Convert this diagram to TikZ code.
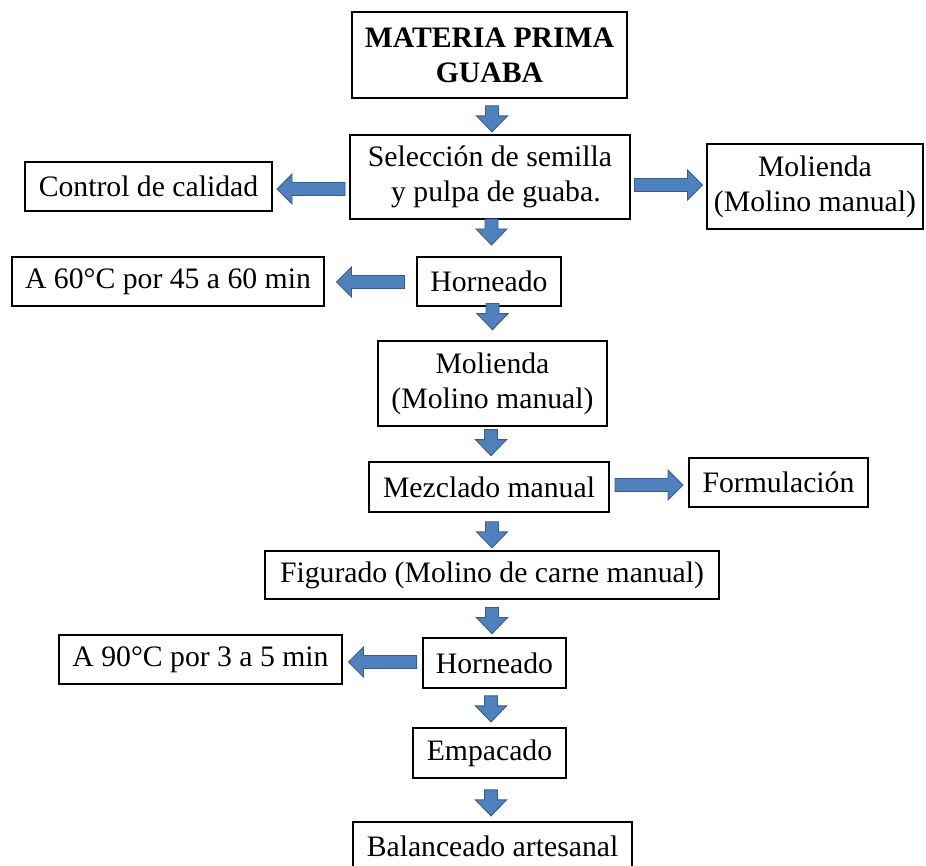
\documentclass[tikz,border=0pt]{standalone}
\usepackage{fontspec}
\setmainfont{Liberation Serif}
\usetikzlibrary{calc}
\definecolor{arrfill}{HTML}{4F81BD}
\definecolor{arrline}{HTML}{385D8A}
\begin{document}
\begin{tikzpicture}[x=1pt,y=-1pt,
  box/.style={draw, line width=2.6pt, fill=white, inner sep=0pt, align=center,
    font=\fontsize{29.7}{35}\selectfont},
  arrowbody/.style={draw=arrline, fill=arrfill, line width=0.9pt, line join=miter},
  varrow/.pic={\path[arrowbody] (-6.5,-13) -- (6.5,-13) -- (6.5,-3) -- (15.5,-3) -- (0,13) -- (-15.5,-3) -- (-6.5,-3) -- cycle;},
  harrow/.pic={\path[arrowbody] (-34,-6.5) -- (19,-6.5) -- (19,-15) -- (34,0) -- (19,15) -- (19,6.5) -- (-34,6.5) -- cycle;}
]
\useasboundingbox (0,0) rectangle (926,866);
\clip (0,0) rectangle (926,866);

% boxes
\node[box, minimum width=275pt, minimum height=86pt] (mp) at (489.5,55) {\bfseries MATERIA PRIMA\\ \bfseries GUABA};
\node[box, minimum width=280pt, minimum height=84pt] (sel) at (490,177) {Selección de semilla\\ \hspace*{0.4em}y pulpa de guaba.};
\node[box, minimum width=247pt, minimum height=49pt] (cc) at (148.5,186.5) {Control de calidad};
\node[box, minimum width=216pt, minimum height=85pt] (mol1) at (815,186.5) {Molienda\\ (Molino manual)};
\node[box, minimum width=312pt, minimum height=49pt] (a60) at (168,281.5) {A 60°C por 45 a 60 min};
\node[box, minimum width=144pt, minimum height=49pt] (h1) at (489,281.5) {Horneado};
\node[box, minimum width=229pt, minimum height=85pt] (mol2) at (492.5,383.5) {Molienda\\ (Molino manual)};
\node[box, minimum width=240pt, minimum height=50pt] (mez) at (489,487) {Mezclado manual};
\node[box, minimum width=179pt, minimum height=49pt] (form) at (778.5,482.5) {Formulación};
\node[box, minimum width=454pt, minimum height=48pt] (fig) at (492,575) {Figurado (Molino de carne manual)};
\node[box, minimum width=143pt, minimum height=50pt] (h2) at (494.5,663) {Horneado};
\node[box, minimum width=283pt, minimum height=49pt] (a90) at (200.5,659.5) {A 90°C por 3 a 5 min};
\node[box, minimum width=153pt, minimum height=50pt] (emp) at (489.5,753) {Empacado};
\node[box, minimum width=279pt, minimum height=49pt] (bal) at (492.5,846.5) {Balanceado artesanal};

% vertical block arrows
\pic at ($(mp.south -| 492,0)!0.57!(sel.north -| 492,0)$) {varrow};
\pic at ($(sel.south -| 491.5,0)!0.33!(h1.north -| 491.5,0)$) {varrow};
\pic at ($(h1.south -| 492.5,0)!0.29!(mol2.north -| 492.5,0)$) {varrow};
\pic at ($(mol2.south -| 491,0)!0.46!(mez.north -| 491,0)$) {varrow};
\pic at ($(mez.south -| 492,0)!0.59!(fig.north -| 492,0)$) {varrow};
\pic at ($(fig.south -| 492,0)!0.56!(h2.north -| 492,0)$) {varrow};
\pic at ($(h2.south -| 491,0)!0.525!(emp.north -| 491,0)$) {varrow};
\pic at ($(emp.south -| 491,0)!0.57!(bal.north -| 491,0)$) {varrow};

% horizontal block arrows
\pic[rotate=180] at ($(sel.west |- 0,189)!0.5!(cc.east |- 0,189)$) {harrow};
\pic at ($(sel.east |- 0,185)!0.5!(mol1.west |- 0,185)$) {harrow};
\pic[rotate=180] at ($(h1.west |- 0,282)!0.5!(a60.east |- 0,282)$) {harrow};
\pic at ($(mez.east |- 0,485)!0.5!(form.west |- 0,485)$) {harrow};
\pic[rotate=180] at ($(h2.west |- 0,662)!0.5!(a90.east |- 0,662)$) {harrow};
\end{tikzpicture}
\end{document}
